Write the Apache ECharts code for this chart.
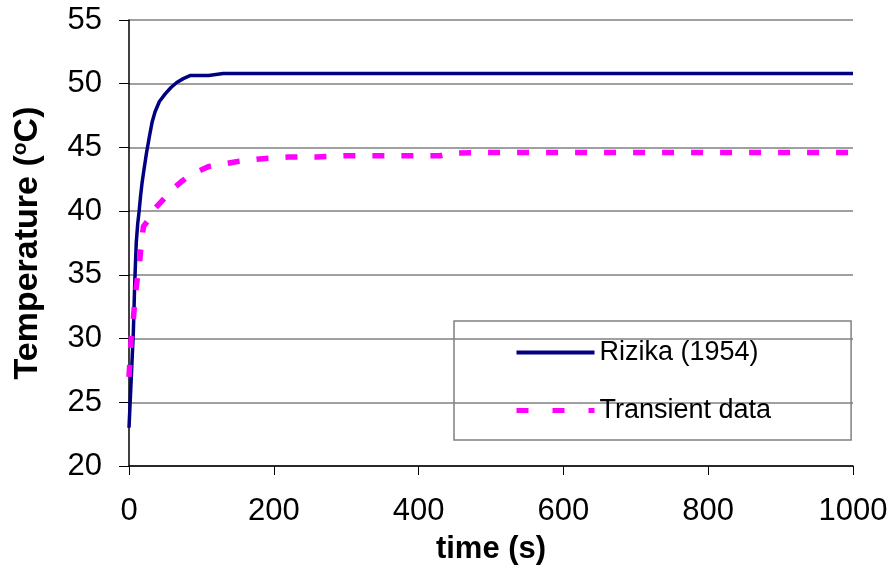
<!DOCTYPE html>
<html lang="en">
<head>
<meta charset="UTF-8">
<title>Temperature vs time</title>
<script src="https://cdn.jsdelivr.net/npm/echarts@6/dist/echarts.min.js"></script>
<style>
  html, body { margin: 0; padding: 0; background: #fff; }
</style>
</head>
<body>
<div id="main" style="width:893px;height:577px;"></div>
<script type="text/javascript">
    // time (s) and temperature (C)
    var rizikaTime = [0, 2, 4, 6, 8, 10, 12, 14, 16, 18, 20, 24, 28, 32, 36, 42, 50, 58, 66, 75, 85, 95, 110, 130, 200, 400, 600, 800, 1000];
    var rizikaTemp = [23, 25.5, 28, 30.5, 34.5, 37.5, 39, 40, 41.2, 42.2, 43, 44.5, 45.8, 47, 47.8, 48.6, 49.2, 49.7, 50.1, 50.4, 50.65, 50.65, 50.65, 50.8, 50.8, 50.8, 50.8, 50.8, 50.8];

    var transTime = [0, 3, 6, 8, 11, 14, 17, 20, 28, 34, 44, 52, 62, 72, 84, 95, 110, 130, 150, 180, 220, 260, 300, 350, 400, 430, 445, 480, 600, 800, 1000];
    var transTemp = [27, 30, 31.5, 33, 34.5, 35.6, 37.5, 38.8, 39.4, 40.1, 40.7, 41.2, 41.8, 42.3, 42.8, 43.1, 43.5, 43.7, 43.9, 44.1, 44.25, 44.25, 44.35, 44.35, 44.35, 44.35, 44.55, 44.6, 44.6, 44.6, 44.6];

    function pairs(xs, ys) {
        var out = [];
        for (var i = 0; i < xs.length; i++) {
            out.push([xs[i], ys[i]]);
        }
        return out;
    }

    var font = 'Liberation Sans, Arial, sans-serif';
    var chart = echarts.init(document.getElementById('main'));

    chart.setOption({
        animation: false,
        grid: { left: 129, right: 40, top: 20, bottom: 111 },
        legend: {
            orient: 'vertical',
            left: 454,
            top: 321,
            padding: [18, 80, 16, 60],
            itemGap: 31,
            itemWidth: 78,
            itemHeight: 12,
            borderColor: '#808080',
            borderWidth: 1.5,
            itemStyle: { opacity: 0 },
            lineStyle: { width: 5, type: [12, 24] },
            textStyle: { fontFamily: font, fontSize: 27, color: '#000' },
            data: [
                { name: 'Rizika (1954)', lineStyle: { color: '#000080', width: 4, type: 'solid' } },
                { name: 'Transient data', lineStyle: { color: '#ff00ff', width: 5, type: [12, 24] } }
            ]
        },
        xAxis: {
            type: 'value',
            min: 0,
            max: 1000,
            interval: 200,
            name: 'time (s)',
            nameLocation: 'middle',
            nameGap: 68,
            nameTextStyle: { fontFamily: font, fontSize: 31, fontWeight: 'bold', color: '#000' },
            axisLine: { lineStyle: { color: '#000', width: 1.5 } },
            axisTick: { show: true, length: 9, lineStyle: { color: '#000' } },
            axisLabel: {
                fontFamily: font, fontSize: 31, color: '#000', margin: 30,
                formatter: function (v) { return String(v); }
            },
            splitLine: { show: false }
        },
        yAxis: {
            type: 'value',
            min: 20,
            max: 55,
            interval: 5,
            name: 'Temperature ({sup|o}C)',
            nameLocation: 'middle',
            nameGap: 84,
            nameTextStyle: {
                fontFamily: font, fontSize: 34, fontWeight: 'bold', color: '#000',
                rich: {
                    sup: { fontFamily: font, fontSize: 21, fontWeight: 'bold', color: '#000', verticalAlign: 'top', padding: [0, 0, 14, 0] }
                }
            },
            axisLine: { show: true, lineStyle: { color: '#000', width: 1.5 } },
            axisTick: { show: true, length: 10, lineStyle: { color: '#000' } },
            axisLabel: { fontFamily: font, fontSize: 31, color: '#000', margin: 27 },
            splitLine: { show: true, lineStyle: { color: '#808080', width: 1.5 } }
        },
        series: [
            {
                name: 'Rizika (1954)',
                type: 'line',
                symbol: 'none',
                data: pairs(rizikaTime, rizikaTemp),
                itemStyle: { color: '#000080' },
                lineStyle: { color: '#000080', width: 3.5 }
            },
            {
                name: 'Transient data',
                type: 'line',
                symbol: 'none',
                data: pairs(transTime, transTemp),
                itemStyle: { color: '#ff00ff' },
                lineStyle: { color: '#ff00ff', width: 5.5, type: [12, 17] }
            }
        ]
    });
</script>
</body>
</html>
